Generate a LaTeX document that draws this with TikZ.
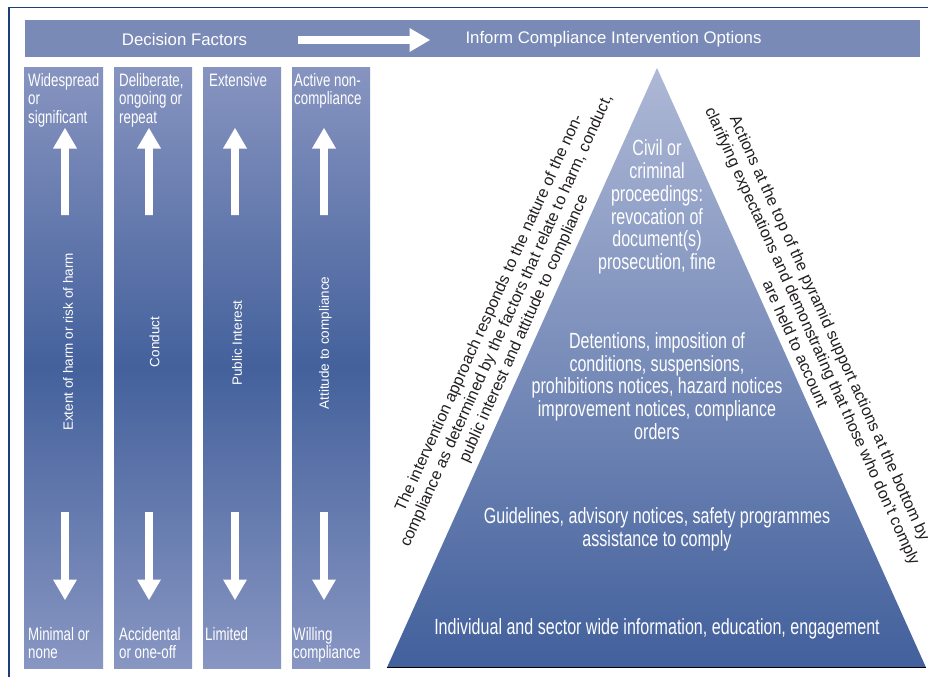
\documentclass[tikz,border=0pt]{standalone}
\usepackage{fontspec}
\setmainfont{Liberation Sans}
\newfontfamily\condfont[FakeStretch=0.74]{Liberation Sans}
\newfontfamily\pyrfont[FakeStretch=0.73]{Liberation Sans}
\definecolor{barcol}{HTML}{7A8AB6}
\definecolor{coltop}{HTML}{8794C0}
\definecolor{colmid}{HTML}{44619C}
\definecolor{colbot}{HTML}{8896C2}
\definecolor{pyrtop}{HTML}{AEB8D6}
\definecolor{pyrbot}{HTML}{42609C}
\definecolor{framecol}{HTML}{1C3F78}
\definecolor{sidecol}{HTML}{231F20}
\definecolor{baseline}{HTML}{A3B2D8}
\begin{document}
\begin{tikzpicture}[x=1pt,y=-1pt,
  colbox/.style={draw=none, inner sep=0pt, minimum width=78pt, minimum height=601pt,
    top color=coltop, bottom color=colbot, middle color=colmid},
  lab/.style={text=white, inner sep=0pt, anchor=north west, align=left,
    font=\condfont\fontsize{18}{18.6}\selectfont},
  vlab/.style={text=white, inner sep=0pt, rotate=90, font=\fontsize{13.5}{16}\selectfont},
  pyrtext/.style={text=white, inner sep=0pt, align=center,
    font=\pyrfont\fontsize{22}{22.8}\selectfont},
  sidetext/.style={text=sidecol, inner sep=0pt, align=center,
    font=\fontsize{16.1}{19}\selectfont},
  headtext/.style={text=white, inner sep=0pt, font=\fontsize{16.8}{20}\selectfont},
  pics/blockarrow/.style={code={
    \fill[white] (0,-3.9) -- ({#1-20.5},-3.9) -- ({#1-20.5},-12) -- (#1,0)
      -- ({#1-20.5},12) -- ({#1-20.5},3.9) -- (0,3.9) -- cycle;}}
]
\useasboundingbox (0,0) rectangle (928,677);
\fill[white] (0,0) rectangle (928,677);

% frame
\draw[framecol, line width=1.5pt] (9,677) -- (9,7.5) -- (928,7.5);

% header bar
\node[fill=barcol, inner sep=0pt, minimum width=895pt, minimum height=37pt] (bar) at (472.5,38.5) {};
\node[headtext] (df) at (184.5,39) {Decision Factors};
\node[headtext] (icio) at (613.5,39) {Inform Compliance Intervention Options};
\pic at (298,40) {blockarrow=132};

% columns
\node[colbox, minimum width=79pt] (col1) at (63.5,367.5) {};
\node[colbox] (col2) at (153,367.5) {};
\node[colbox] (col3) at (242,367.5) {};
\node[colbox] (col4) at (331,367.5) {};

% top labels
\node[lab] (t1) at (28,73) {Widespread\\or\\significant};
\node[lab] (t2) at (119,73) {Deliberate,\\ongoing or\\repeat};
\node[lab] (t3) at (209,73) {Extensive};
\node[lab] (t4) at (294,73) {Active non-\\compliance};

% bottom labels
\node[lab] (b1) at (28,627) {Minimal or\\none};
\node[lab] (b2) at (119,627) {Accidental\\or one-off};
\node[lab] (b3) at (205,627) {Limited};
\node[lab] (b4) at (293,627) {Willing\\compliance};

% rotated labels
\node[vlab] (v1) at (68,342) {Extent of harm or risk of harm};
\node[vlab] (v2) at (154.5,342) {Conduct};
\node[vlab] (v3) at (237,343) {Public Interest};
\node[vlab] (v4) at (325.5,343) {Attitude to compliance};

% column arrows
\foreach \ax in {65,149,235,324}{
  \pic[rotate=90] at (\ax,215) {blockarrow=87};
  \pic[rotate=-90] at (\ax,512) {blockarrow=88};
}

% pyramid
\coordinate (apex) at (657,68);
\coordinate (bl) at (387,667.5);
\coordinate (br) at (926,667.5);
\shade[top color=pyrtop, bottom color=pyrbot] (apex) -- (bl) -- (br) -- cycle;
\draw[baseline, line width=1pt] (bl) -- (br);

\node[pyrtext] (p1) at (657,207) {Civil or\\criminal\\proceedings:\\revocation of\\document(s)\\prosecution, fine};
\node[pyrtext] (p2) at (657,386) {Detentions, imposition of\\conditions, suspensions,\\prohibitions notices, hazard notices\\improvement notices, compliance\\orders};
\node[pyrtext] (p3) at (657,529) {Guidelines, advisory notices, safety programmes\\assistance to comply};
\node[pyrtext] (p4) at (657,629) {Individual and sector wide information, education, engagement};

% side texts
\node[sidetext, rotate=65.7] (ls) at (507,321) {The intervention approach responds to the nature of the non-\\compliance as determined by the factors that relate to harm, conduct,\\public interest and attitude to compliance};
\node[sidetext, rotate=-65.7] (rs) at (813,336) {Actions at the top of the pyramid support actions at the bottom by\\clarifying expectations and demonstrating that those who don't comply\\are held to account};
\end{tikzpicture}
\end{document}
